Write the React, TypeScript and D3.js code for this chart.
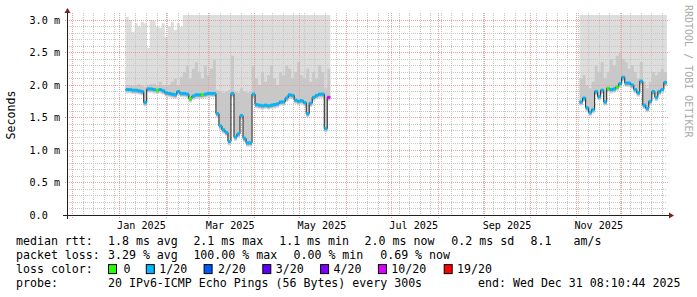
import React from 'react';
import * as d3 from 'd3';

const W = 697;
const H = 297;
const X0 = 67;
const X1 = 667;
const Y0 = 215;
const Y1 = 15;
const Y_TOP = 3.0769;
const DAY = 86400000;

const startTime = new Date(Date.UTC(2024, 10, 27, 12, 0, 0));
const endTime = new Date(Date.UTC(2025, 11, 31, 8, 10, 44));

const yTickValues = [0, 0.5, 1.0, 1.5, 2.0, 2.5, 3.0];
const yTickLabels = ['0.0', '0.5 m', '1.0 m', '1.5 m', '2.0 m', '2.5 m', '3.0 m'];

const xLabelMonths = ['2025-01-01', '2025-03-01', '2025-05-01', '2025-07-01', '2025-09-01', '2025-11-01'];
const xLabelTexts = ['Jan 2025', 'Mar 2025', 'May 2025', 'Jul 2025', 'Sep 2025', 'Nov 2025'];

const lossLabels = ['0', '1/20', '2/20', '3/20', '4/20', '10/20', '19/20'];
const lossColors = ['#26ff00', '#00b8ff', '#0059ff', '#5e00ff', '#7e00ff', '#dd00ff', '#ff0000'];

// segment 1 : 2-day steps from Jan 5 2025
const seg1Start = '2025-01-05T12:00:00Z';
const seg1Median = [
  1.93, 1.93, 1.92, 1.92, 1.91, 1.90, 1.73, 1.94, 1.94, 1.93,
  1.92, 1.93, 1.91, 1.88, 1.87, 1.86, 1.85, 1.90, 1.87, 1.87,
  1.86, 1.79, 1.83, 1.85, 1.85, 1.85, 1.86, 1.87, 1.87, 1.87,
  1.56, 1.37, 1.31, 1.27, 1.13, 1.87, 1.20, 1.25, 1.53, 1.18,
  1.11, 1.11, 1.86, 1.70, 1.69, 1.68, 1.69, 1.68, 1.69, 1.70,
  1.71, 1.74, 1.74, 1.80, 1.85, 1.84, 1.77, 1.75, 1.76, 1.73,
  1.56, 1.72, 1.81, 1.84, 1.86, 1.86, 1.33, 1.81,
];
const seg1Loss = [
  1, 1, 1, 1, 1, 1, 1, 1, 1, 1,
  0, 1, 1, 1, 1, 1, 1, 1, 1, 1,
  1, 0, 1, 1, 1, 0, 1, 1, 1, 1,
  1, 1, 1, 1, 1, 1, 1, 1, 1, 1,
  1, 1, 1, 1, 1, 1, 1, 1, 1, 1,
  1, 1, 1, 1, 1, 1, 1, 1, 1, 1,
  1, 1, 1, 1, 1, 1, 1, 5,
];
const seg1Hi = [
  2.00, 2.00, 1.99, 2.00, 2.01, 1.99, 1.97, 2.00, 2.01, 2.02,
  2.00, 2.05, 2.00, 1.98, 2.00, 2.05, 2.10, 2.00, 2.12, 2.20,
  2.30, 2.10, 2.25, 2.35, 2.20, 2.10, 2.30, 2.15, 2.25, 2.38,
  1.92, 1.90, 1.88, 1.90, 1.92, 2.45, 1.90, 1.88, 1.95, 1.90,
  1.88, 1.90, 2.30, 2.10, 2.00, 2.20, 2.05, 2.15, 2.30, 2.10,
  2.00, 2.20, 2.15, 2.30, 2.25, 2.10, 2.20, 2.35, 2.15, 2.10,
  2.25, 2.05, 2.20, 2.10, 2.30, 2.20, 1.95, 2.25,
];
const seg1Max = [
  3.05, 3.00, 2.82, 2.95, 2.90, 2.97, 2.95, 2.57, 3.00, 2.98,
  2.90, 2.88, 2.95, 2.74, 2.90, 2.97, 2.85, 2.95, 2.90, 3.20,
  3.20, 3.20, 3.20, 3.20, 3.20, 3.20, 3.20, 3.20, 3.20, 3.20,
  3.20, 3.20, 3.20, 3.20, 3.20, 3.20, 3.20, 3.20, 3.20, 3.20,
  3.20, 3.20, 3.20, 3.20, 3.20, 3.20, 3.20, 3.20, 3.20, 3.20,
  3.20, 3.20, 3.20, 3.20, 3.20, 3.20, 3.20, 3.20, 3.20, 3.20,
  3.20, 3.20, 3.20, 3.20, 3.20, 3.20, 3.20, 3.20,
];

// segment 2 : 2-day steps from Nov 3 2025
const seg2Start = '2025-11-03T06:00:00Z';
const seg2Median = [
  1.74, 1.80, 1.65, 1.58, 1.62, 1.90, 1.82, 1.92, 1.74, 1.95,
  1.93, 1.94, 1.97, 2.02, 2.12, 2.03, 2.03, 2.00, 1.93, 1.88,
  2.06, 1.69, 1.64, 1.75, 1.90, 1.81, 1.90, 1.93, 2.04,
];
const seg2Loss = [
  1, 1, 1, 1, 1, 1, 1, 1, 1, 0,
  1, 1, 0, 1, 1, 1, 1, 1, 1, 1,
  1, 1, 1, 1, 1, 1, 1, 1, 1,
];
const seg2Hi = [
  2.10, 2.15, 2.00, 1.95, 2.05, 2.30, 2.20, 2.35, 2.10, 2.20,
  2.40, 2.30, 2.45, 2.50, 2.40, 2.35, 2.25, 2.30, 2.20, 2.10,
  2.35, 2.05, 1.95, 2.05, 2.20, 2.15, 2.20, 2.25, 2.20,
];
const seg2Max = [
  3.20, 3.20, 3.20, 3.20, 3.20, 3.20, 3.20, 3.20, 3.20, 3.20,
  3.20, 3.20, 3.20, 3.20, 3.20, 3.20, 3.20, 3.20, 3.20, 3.20,
  3.20, 3.20, 3.20, 3.20, 3.20, 3.20, 3.20, 3.20, 3.20,
];

const legendRow1: [number, string][] = [
  [16, 'median rtt:'], [108, '1.8 ms avg'], [193.4, '2.1 ms max'], [279.2, '1.1 ms min'],
  [364.6, '2.0 ms now'], [451.3, '0.2 ms sd'], [530.5, '8.1'], [573.6, 'am/s'],
];
const legendRow2: [number, string][] = [
  [16, 'packet loss:'], [108, '3.29 % avg'], [193.4, '100.00 % max'], [293.5, '0.00 % min'], [380.2, '0.69 % now'],
];
const lossLabelX = [123.6, 159.2, 217.9, 275.7, 333.5, 391.3, 457.1];
const lossBoxX = [108, 145.8, 203.6, 262.3, 320.1, 377.9, 443.7];

type Pt = { t: Date; med: number; hi: number; max: number; loss: number };

function buildSeg(start: string, med: number[], hi: number[], max: number[], loss: number[]): Pt[] {
  const s = new Date(start).getTime();
  const pts: Pt[] = med.map((m, i) => ({ t: new Date(s + i * 2 * DAY), med: m, hi: hi[i], max: max[i], loss: loss[i] }));
  const n = med.length;
  pts.push({ t: new Date(s + n * 2 * DAY), med: med[n - 1], hi: hi[n - 1], max: max[n - 1], loss: loss[n - 1] });
  return pts;
}

const FONT = '"DejaVu Sans Mono", monospace';

export default function App() {
  const x = d3.scaleUtc().domain([startTime, endTime]).range([X0, X1]);
  const y = d3.scaleLinear().domain([0, Y_TOP]).range([Y0, Y1]);

  const segs = [
    buildSeg(seg1Start, seg1Median, seg1Hi, seg1Max, seg1Loss),
    buildSeg(seg2Start, seg2Median, seg2Hi, seg2Max, seg2Loss),
  ];

  const mkArea = (lo: (d: Pt) => number, hi: (d: Pt) => number) =>
    d3.area<Pt>().x((d) => x(d.t)).y0((d) => y(lo(d))).y1((d) => y(hi(d))).curve(d3.curveStepAfter);
  const lightArea = mkArea((d) => d.med - 0.06, (d) => d.max);
  const midArea = mkArea((d) => d.med - 0.045, (d) => d.hi);
  const darkArea = mkArea((d) => d.med - 0.035, (d) => d.med + 0.015);
  const medLine = d3.line<Pt>().x((d) => x(d.t)).y((d) => y(d.med)).curve(d3.curveStepAfter);

  const months = d3.utcMonth.range(startTime, endTime);
  const weeks = d3.utcSunday.range(startTime, endTime).filter((w) => w.getUTCDate() !== 1);
  const minorY = y.ticks(30).filter((v) => Math.abs(v * 2 - Math.round(v * 2)) > 1e-6);

  const rx = (v: number) => Math.round(v) + 0.5;

  return (
    <svg width={W} height={H} style={{ position: 'absolute', left: 0, top: 0, background: '#fff' }}>
      <defs>
        <clipPath id="plot">
          <rect x={X0} y={Y1} width={X1 - X0} height={Y0 - Y1} />
        </clipPath>
      </defs>
      <rect x={0} y={0} width={W} height={H} fill="#ffffff" />
      <g clipPath="url(#plot)">
        {segs.map((s, i) => (
          <g key={i}>
            <path d={lightArea(s) || ''} fill="#dddddd" />
            <path d={midArea(s) || ''} fill="#c8c8c8" />
            <path d={darkArea(s) || ''} fill="#a9a9a9" />
          </g>
        ))}
      </g>
      {/* grid */}
      <g shapeRendering="crispEdges">
        {minorY.map((v) => (
          <line key={'my' + v} x1={X0} x2={X1} y1={rx(y(v))} y2={rx(y(v))} stroke="#c6c6c6" strokeDasharray="1,1" />
        ))}
        {weeks.map((w) => (
          <line key={'wk' + w.getTime()} x1={rx(x(w))} x2={rx(x(w))} y1={Y1 - 2} y2={Y0} stroke="#c6c6c6" strokeDasharray="1,1" />
        ))}
        {yTickValues.slice(1).map((v) => (
          <line key={'My' + v} x1={X0 - 2} x2={X1 + 2} y1={rx(y(v))} y2={rx(y(v))} stroke="#e8a0a0" strokeDasharray="1,1" />
        ))}
        {months.map((m) => (
          <line key={'mo' + m.getTime()} x1={rx(x(m))} x2={rx(x(m))} y1={Y1 - 2} y2={Y0 + 3} stroke="#e8a0a0" strokeDasharray="1,1" />
        ))}
      </g>
      {/* median */}
      <g clipPath="url(#plot)">
        {segs.map((s, i) => (
          <g key={i}>
            <path d={medLine(s) || ''} fill="none" stroke="#202020" strokeWidth={1} />
            {s.slice(0, -1).map((d, j) => (
              <rect
                key={j}
                x={x(d.t)}
                width={x(s[j + 1].t) - x(d.t)}
                y={y(d.med) - 1.5}
                height={3}
                fill={lossColors[d.loss]}
              />
            ))}
          </g>
        ))}
      </g>
      {/* axes */}
      <g shapeRendering="crispEdges">
        <line x1={X0 - 4} x2={X1 + 4} y1={Y0 + 0.5} y2={Y0 + 0.5} stroke="#1f1f1f" />
        <line x1={X0 + 0.5} x2={X0 + 0.5} y1={Y0 + 4} y2={Y1 - 4} stroke="#1f1f1f" />
      </g>
      <path d={`M${X1 + 2},${Y0 + 0.5 - 3}L${X1 + 2},${Y0 + 0.5 + 3}L${X1 + 7},${Y0 + 0.5}Z`} fill="#801f1f" />
      <path d={`M${X0 + 0.5 - 3},${Y1 - 2}L${X0 + 0.5 + 3},${Y1 - 2}L${X0 + 0.5},${Y1 - 7}Z`} fill="#801f1f" />
      {/* y labels */}
      <g fontFamily={FONT} fontSize={10.15} fill="#000">
        {yTickValues.map((v, i) => (
          <text key={v} x={29.5} y={y(v) + 3.6}>{yTickLabels[i]}</text>
        ))}
        {xLabelMonths.map((m, i) => (
          <text key={m} x={x(new Date(new Date(m + 'T00:00:00Z').getTime() + 15 * DAY))} y={228.5} textAnchor="middle">
            {xLabelTexts[i]}
          </text>
        ))}
      </g>
      <text
        fontFamily={FONT}
        fontSize={11.6}
        transform={`translate(15,${(Y0 + Y1) / 2}) rotate(-90)`}
        textAnchor="middle"
      >
        Seconds
      </text>
      <text
        fontFamily={FONT}
        fontSize={10}
        fill="#aaaaaa"
        transform="translate(685,5) rotate(90)"
      >
        RRDTOOL / TOBI OETIKER
      </text>
      {/* legend */}
      <g fontFamily={FONT} fontSize={11.6} fill="#000">
        {legendRow1.map(([px, t]) => (
          <text key={'r1' + px} x={px} y={244.5}>{t}</text>
        ))}
        {legendRow2.map(([px, t]) => (
          <text key={'r2' + px} x={px} y={258.8}>{t}</text>
        ))}
        <text x={16} y={273.1}>loss color:</text>
        {lossLabels.map((l, i) => (
          <g key={l}>
            <rect x={lossBoxX[i] + 0.5} y={273.1 - 8.5} width={8} height={9} fill={lossColors[i]} stroke="#000" strokeWidth={1} />
            <text x={lossLabelX[i]} y={273.1}>{l}</text>
          </g>
        ))}
        <text x={16} y={287.4}>probe:</text>
        <text x={108} y={287.4}>20 IPv6-ICMP Echo Pings (56 Bytes) every 300s</text>
        <text x={680.5} y={287.4} textAnchor="end">end: Wed Dec 31 08:10:44 2025</text>
      </g>
    </svg>
  );
}
